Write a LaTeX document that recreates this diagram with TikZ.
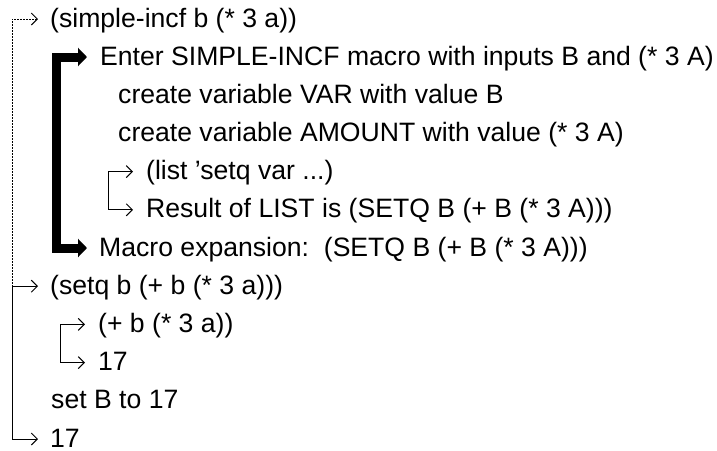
\documentclass[tikz,border=0pt]{standalone}
\usepackage{fontspec}
\setmainfont{Liberation Sans}
\usetikzlibrary{arrows.meta}
\begin{document}
\begin{tikzpicture}[x=1pt,y=-1pt,
  txt/.style={anchor=west,inner sep=0pt,text height=16pt,text depth=0pt,font=\fontsize{26.6}{30}\selectfont},
  barb/.tip={Straight Barb[length=6pt,width=12pt]},
  fat/.tip={Triangle[length=9pt,width=18pt]},
  thinline/.style={line width=1pt},
  dotline/.style={line width=1pt,dash pattern=on 1.5pt off 1.5pt},
  thickline/.style={line width=9pt,line join=miter,line cap=butt}]
\useasboundingbox (0,0) rectangle (717,450);
% text lines
\node[txt] (t0) at (50,19) {(simple-incf b (* 3 a))};
\node[txt] (t1) at (100,57) {Enter SIMPLE-INCF macro with inputs B and (* 3 A)};
\node[txt] (t2) at (118,95.2) {create variable VAR with value B};
\node[txt] (t3) at (118,133.4) {create variable AMOUNT with value (* 3 A)};
\node[txt] (t4) at (146,171.6) {(list ’setq var ...)};
\node[txt] (t5) at (146,209.8) {Result of LIST is (SETQ B (+ B (* 3 A)))};
\node[txt] (t6) at (99,248) {Macro expansion:\ \ (SETQ B (+ B (* 3 A)))};
\node[txt] (t7) at (50,286.2) {(setq b (+ b (* 3 a)))};
\node[txt] (t8) at (98,324.4) {(+ b (* 3 a))};
\node[txt] (t9) at (98,362.6) {17};
\node[txt] (t10) at (51,400.8) {set B to 17};
\node[txt] (t11) at (50,439) {17};
% corner coordinates
\coordinate (m0) at (12,19);
\coordinate (m7) at (12,286.2);
\coordinate (m11) at (12,439);
\coordinate (k1) at (56,57);
\coordinate (k6) at (56,248);
\coordinate (l4) at (108,171.6);
\coordinate (l5) at (108,209.8);
\coordinate (p8) at (60,324.4);
\coordinate (p9) at (60,362.6);
% connectors
\draw[dotline,{barb}-] ([xshift=-12pt]t0.west) -- (m0) -- (m7);
\draw[thinline,{barb}-{barb}] ([xshift=-12pt]t7.west) -- (m7) -- (m11) -- ([xshift=-12pt]t11.west);
\draw[thickline,{fat}-{fat}] ([xshift=-13pt]t1.west) -- (k1) -- (k6) -- ([xshift=-12pt]t6.west);
\draw[thinline,{barb}-{barb}] ([xshift=-13pt]t4.west) -- (l4) -- (l5) -- ([xshift=-13pt]t5.west);
\draw[thinline,{barb}-{barb}] ([xshift=-13pt]t8.west) -- (p8) -- (p9) -- ([xshift=-13pt]t9.west);
\end{tikzpicture}
\end{document}
